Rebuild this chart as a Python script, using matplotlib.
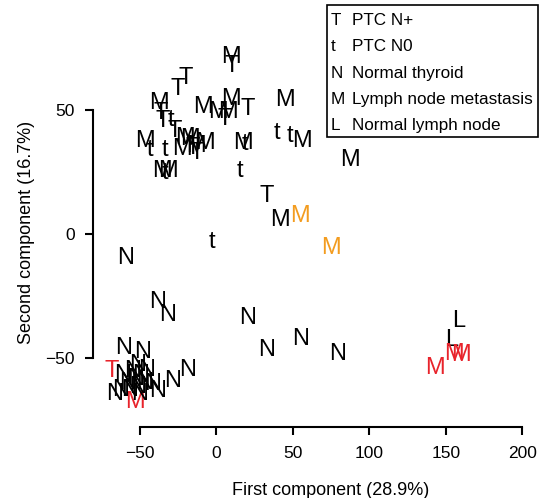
import matplotlib
matplotlib.use("Agg")
import matplotlib.pyplot as plt
from matplotlib.patches import Rectangle

plt.rcParams['font.family'] = ['Liberation Sans', 'DejaVu Sans']

# sample letter, PCA coordinates and colour
labels = ['M', 'T', 'T', 'T', 'M', 'T', 'T', 't', 'M', 't', 't', 'T', 'M', 'M', 'M', 'T',
          'M', 'M', 'M', 'M', 'T', 'M', 'T', 'M', 'T', 'M', 't', 't', 'M', 'M', 't', 'M',
          't', 't', 'M', 'M', 'T', 'M', 'M', 'M', 't',
          'N', 'N', 'N', 'N', 'N', 'N', 'N',
          'N', 'N', 'T', 'N', 'N', 'N', 'N', 'M',
          'N', 'N', 'N', 'N', 'N', 'N', 'N', 'N', 'N', 'N', 'N', 'N', 'N',
          'L', 'L', 'M', 'M', 'M']
pc1 = [9.6, 10.3, -19.8, -25.0, -37.4, -36.1, -34.8, -29.6, -46.6, -43.3, -33.5, -27.0, -20.4,
       -17.2, -22.4, -12.6, -13.3, -8.7, 1.1, 7.6, 5.7, 9.6, 20.7, -7.4, -15.2, 17.4, 18.8,
       15.5, -35.5, -31.6, -33.5, 44.9, 39.7, 48.2, 56.0, 87.3, 33.1, 41.6, 54.7, 74.9, -2.8,
       -59.6, -38.1, -31.6, 20.1, 33.1, 54.7, 78.9,
       -60.9, -48.5, -68.1, -19.1, -28.9, -38.1, -66.2, -53.1,
       -61.5, -58.3, -55.0, -53.1, -51.2, -49.2, -47.2, -56.4, -62.9, -45.9, -51.8, -49.9, -42.0,
       158.6, 154.0, 155.3, 159.9, 142.9]
pc2 = [72.4, 68.4, 63.7, 59.5, 53.9, 49.8, 46.6, 47.0, 38.6, 35.0, 35.0, 42.6, 39.8,
       39.4, 35.4, 33.8, 36.6, 52.3, 49.9, 49.9, 47.4, 55.5, 51.1, 37.8, 35.8, 37.8, 37.4,
       26.5, 26.5, 26.5, 25.7, 55.1, 41.8, 40.6, 38.6, 30.6, 16.5, 6.8, 8.4, -4.8, -2.0,
       -8.8, -26.5, -31.4, -32.6, -45.8, -41.4, -47.4,
       -45.0, -46.6, -53.9, -53.5, -57.9, -62.3, -63.5, -66.7,
       -55.5, -58.7, -53.9, -57.1, -60.7, -55.5, -58.7, -61.9, -61.9, -53.5, -51.5, -63.5, -59.5,
       -33.8, -41.8, -47.4, -47.8, -52.7]
colors = ['black'] * 38 + ['orange', 'orange', 'black'] + ['black'] * 7 + \
         ['black', 'black', 'red', 'black', 'black', 'black', 'black', 'red'] + ['black'] * 13 + \
         ['black', 'black', 'red', 'red', 'red']
palette = {'black': 'black', 'red': '#e8232b', 'orange': '#f39c1f'}

legend_letters = ['T', 't', 'N', 'M', 'L']
legend_labels = ['PTC N+', 'PTC N0', 'Normal thyroid', 'Lymph node metastasis', 'Normal lymph node']

W, H = 543, 498
fig = plt.figure(figsize=(W / 100, H / 100), dpi=100)
ax = fig.add_axes([93 / W, 1 - 427 / H, (535 - 93) / W, (427 - 15) / H])
ax.set_xlim(-80.6, 208.2)
ax.set_ylim(-77.6, 88.1)

for lab, x, y, c in zip(labels, pc1, pc2, colors):
    ax.text(x, y, lab, color=palette[c], fontsize=17, ha='center', va='center_baseline')

for s in ['top', 'right']:
    ax.spines[s].set_visible(False)
ax.spines['left'].set_bounds(-50, 50)
ax.spines['bottom'].set_bounds(-50, 200)
for s in ['left', 'bottom']:
    ax.spines[s].set_linewidth(1.5)
ax.set_xticks([-50, 0, 50, 100, 150, 200])
ax.set_yticks([-50, 0, 50])
ax.tick_params(length=6, width=1.5, labelsize=12.5)
ax.tick_params(axis='x', pad=8)
ax.tick_params(axis='y', pad=7)
ax.set_xlabel('First component (28.9%)', fontsize=13)
ax.set_ylabel('Second component (16.7%)', fontsize=13)
ax.xaxis.set_label_coords(0.538, -0.134)
ax.yaxis.set_label_coords(-0.131, 0.473)

# legend box drawn by hand, letters as symbols
fig.patches.append(Rectangle((327 / W, 1 - 137 / H), (538 - 327) / W, (137 - 5) / H,
                             transform=fig.transFigure, fill=False, lw=1.2, ec='black'))
for i, (let, lab) in enumerate(zip(legend_letters, legend_labels)):
    yy = 1 - (19 + 26.3 * i) / H
    fig.text(331 / W, yy, let, fontsize=12.3, ha='left', va='center_baseline')
    fig.text(352 / W, yy, lab, fontsize=12.3, ha='left', va='center_baseline')

fig.savefig('out.png', dpi=100)
